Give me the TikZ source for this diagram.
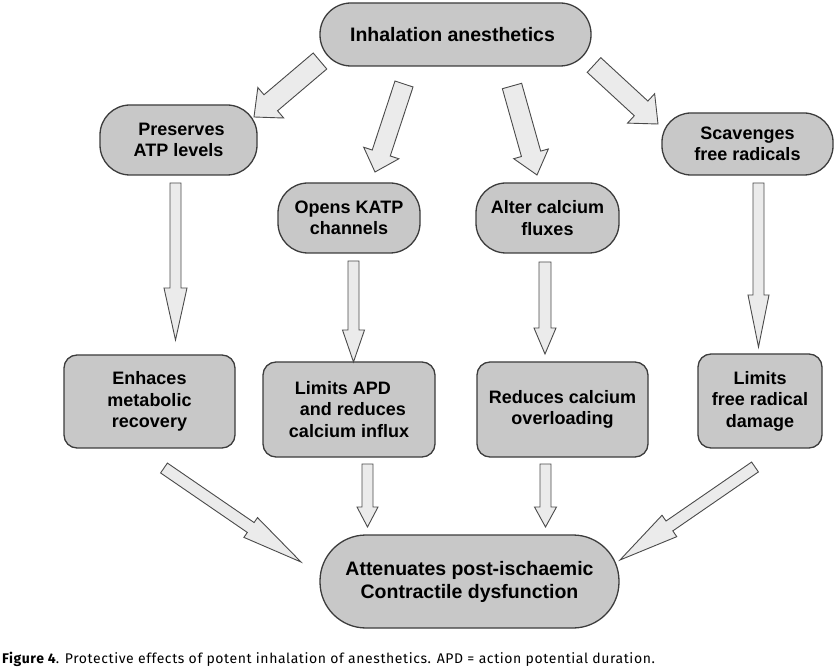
\documentclass[tikz,border=0pt]{standalone}
\usepackage{fontspec}
\setmainfont{Liberation Sans}
\newfontfamily\capfont[LetterSpace=4.2]{Fira Sans}
\usetikzlibrary{calc}
\definecolor{boxfill}{HTML}{C8C8C8}
\definecolor{boxline}{HTML}{3C3C3C}
\definecolor{arrfill}{HTML}{EBEBEB}
\definecolor{arrline}{HTML}{4A4A4A}
\newcommand\blockarr[5]{%
  \coordinate (hb) at ($(#2)!#5!(#1)$);
  \draw[arrstyle] ($(#1)!#3!90:(#2)$) -- ($(hb)!#3!90:(#2)$) -- ($(hb)!#4!90:(#2)$) -- (#2)
    -- ($(hb)!#4!-90:(#2)$) -- ($(hb)!#3!-90:(#2)$) -- ($(#1)!#3!-90:(#2)$) -- cycle;}
\tikzset{
  arrstyle/.style={fill=arrfill, draw=arrline, line width=0.9pt, line join=miter},
  basebox/.style={draw=boxline, fill=boxfill, line width=1.3pt, inner sep=0pt, align=center,
    font=\bfseries\fontsize{18}{21.5}\selectfont},
  pill/.style={basebox, rounded corners=#1},
  bigpill/.style={basebox, rounded corners=#1, font=\bfseries\fontsize{19.5}{23}\selectfont},
  rbox/.style={basebox, rounded corners=13pt},
}
\begin{document}
\begin{tikzpicture}[x=1pt,y=-1pt]
\useasboundingbox (0,0) rectangle (836,668);
% nodes
\node[bigpill=31pt, minimum width=271pt, minimum height=63pt] (top) at (455.5,34.5) {Inhalation anesthetics\hspace*{6pt}};
\node[pill=30pt, minimum width=157pt, minimum height=70pt] (pres) at (178.5,140) {\hspace*{6pt}Preserves\\ATP levels};
\node[pill=30pt, minimum width=142pt, minimum height=70pt] (opens) at (349,218) {Opens KATP\\channels};
\node[pill=30pt, minimum width=143pt, minimum height=70pt] (alter) at (547.5,218) {Alter calcium\\fluxes};
\node[pill=29pt, minimum width=171pt, minimum height=62pt] (scav) at (747.5,144) {Scavenges\\free radicals};
\node[rbox, minimum width=171pt, minimum height=93pt] (enh) at (149.5,401.5) {Enhaces\\metabolic\\recovery};
\node[rbox, minimum width=172pt, minimum height=95pt] (lapd) at (349,409.5) {Limits APD\hspace*{12pt}\\\hspace*{8pt}and reduces\\calcium influx};
\node[rbox, minimum width=171pt, minimum height=95pt] (red) at (562.5,409.5) {Reduces calcium\\overloading};
\node[rbox, minimum width=124pt, minimum height=94pt] (lfr) at (760,401) {Limits\\free radical\\damage};
\node[bigpill=46pt, minimum width=299pt, minimum height=93pt] (att) at (469.5,581.5) {Attenuates post-ischaemic\\Contractile dysfunction};
% arrow end points
\coordinate (a1s) at (320,61);   \coordinate (a1e) at (254,117);
\coordinate (a2s) at (404,84);   \coordinate (a2e) at (375,172);
\coordinate (a3s) at (512,86);   \coordinate (a3e) at (537,175);
\coordinate (a4s) at (594,65);   \coordinate (a4e) at (658,124);
\coordinate (a5s) at (175.5,183); \coordinate (a5e) at (175.5,340);
\coordinate (a6s) at (353.5,261); \coordinate (a6e) at (353.5,362);
\coordinate (a7s) at (545,262);  \coordinate (a7e) at (545,354);
\coordinate (a8s) at (758.5,183); \coordinate (a8e) at (758.5,347);
\coordinate (a9s) at (164,468);  \coordinate (a9e) at (301,562);
\coordinate (a10s) at (367.5,464); \coordinate (a10e) at (367.5,527);
\coordinate (a11s) at (545.5,464); \coordinate (a11e) at (545.5,527);
\coordinate (a12s) at (755,467); \coordinate (a12e) at (620,560);
\blockarr{a1s}{a1e}{10.5pt}{20pt}{22pt}
\blockarr{a2s}{a2e}{9.5pt}{18.5pt}{20pt}
\blockarr{a3s}{a3e}{10pt}{18pt}{22pt}
\blockarr{a4s}{a4e}{10pt}{20pt}{23pt}
\blockarr{a5s}{a5e}{5.5pt}{11.5pt}{52pt}
\blockarr{a6s}{a6e}{5.5pt}{11pt}{32pt}
\blockarr{a7s}{a7e}{6pt}{11pt}{26pt}
\blockarr{a8s}{a8e}{5.5pt}{10.5pt}{52pt}
\blockarr{a9s}{a9e}{6pt}{12pt}{61pt}
\blockarr{a10s}{a10e}{5.5pt}{10.5pt}{20pt}
\blockarr{a11s}{a11e}{5.5pt}{11pt}{20pt}
\blockarr{a12s}{a12e}{6pt}{13pt}{60pt}
% caption
\node[anchor=base west, inner sep=0pt, font=\capfont\fontsize{14}{16}\selectfont] (cap) at (2,663)
  {\textbf{Figure 4}. Protective effects of potent inhalation of anesthetics. APD = action potential duration.};
\end{tikzpicture}
\end{document}
